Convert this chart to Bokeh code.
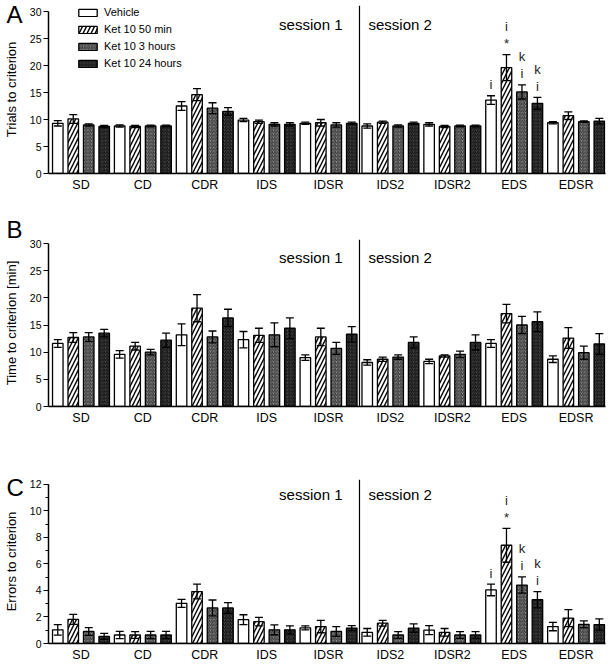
from bokeh.plotting import figure
from bokeh.models import (ColumnDataSource, Whisker, TeeHead, Span, Label, Legend, LegendItem,
                          FixedTicker, SingleIntervalTicker, Range1d, Title)
from bokeh.core.properties import value
from bokeh.layouts import column
from bokeh.embed import file_html
from bokeh.resources import INLINE

FONT = "Liberation Sans"

categories = ["SD", "CD", "CDR", "IDS", "IDSR", "IDS2", "IDSR2", "EDS", "EDSR"]
series_names = ["Vehicle", "Ket 10 50 min", "Ket 10 3 hours", "Ket 10 24 hours"]

# Panel A: trials to criterion (mean, SEM)
trials_veh = [9.3, 8.8, 12.5, 9.9, 9.3, 8.8, 9.1, 13.6, 9.4]
trials_veh_sem = [0.5, 0.2, 0.8, 0.3, 0.2, 0.4, 0.3, 0.8, 0.2]
trials_k50 = [10.1, 8.7, 14.6, 9.6, 9.4, 9.5, 8.7, 19.6, 10.7]
trials_k50_sem = [0.8, 0.2, 1.1, 0.3, 0.6, 0.2, 0.2, 2.4, 0.7]
trials_k3h = [9.0, 8.8, 12.1, 9.1, 9.0, 8.8, 8.8, 15.1, 9.6]
trials_k3h_sem = [0.2, 0.15, 1.0, 0.3, 0.4, 0.2, 0.15, 1.3, 0.15]
trials_k24 = [8.7, 8.8, 11.5, 9.1, 9.3, 9.3, 8.8, 13.0, 9.7]
trials_k24_sem = [0.2, 0.15, 0.7, 0.3, 0.2, 0.2, 0.15, 1.1, 0.5]

# Panel B: time to criterion [min]
time_veh = [11.6, 9.6, 13.2, 12.3, 9.0, 8.1, 8.3, 11.6, 8.7]
time_veh_sem = [0.7, 0.7, 2.0, 1.5, 0.5, 0.5, 0.4, 0.7, 0.6]
time_k50 = [12.7, 11.1, 18.1, 13.1, 12.8, 8.7, 9.3, 17.1, 12.6]
time_k50_sem = [0.9, 0.7, 2.5, 1.3, 1.6, 0.4, 0.2, 1.7, 1.9]
time_k3h = [12.8, 10.0, 12.8, 13.2, 10.7, 9.1, 9.6, 15.0, 9.9]
time_k3h_sem = [0.8, 0.5, 1.1, 2.2, 1.1, 0.4, 0.6, 1.6, 1.2]
time_k24 = [13.5, 12.2, 16.3, 14.4, 13.3, 11.8, 11.8, 15.6, 11.5]
time_k24_sem = [0.7, 1.3, 1.6, 1.9, 1.4, 1.0, 1.4, 1.8, 1.9]

# Panel C: errors to criterion
errors_veh = [1.03, 0.64, 3.03, 1.8, 1.18, 0.84, 1.01, 4.04, 1.28]
errors_veh_sem = [0.4, 0.27, 0.3, 0.37, 0.15, 0.29, 0.34, 0.44, 0.32]
errors_k50 = [1.82, 0.64, 3.92, 1.65, 1.28, 1.53, 0.84, 7.41, 1.92]
errors_k50_sem = [0.37, 0.26, 0.56, 0.32, 0.47, 0.22, 0.29, 1.28, 0.64]
errors_k3h = [0.91, 0.64, 2.68, 1.03, 0.91, 0.64, 0.64, 4.41, 1.45]
errors_k3h_sem = [0.29, 0.27, 0.6, 0.37, 0.37, 0.25, 0.25, 0.61, 0.25]
errors_k24 = [0.54, 0.64, 2.68, 1.03, 1.16, 1.16, 0.64, 3.3, 1.43]
errors_k24_sem = [0.22, 0.27, 0.4, 0.3, 0.19, 0.32, 0.25, 0.62, 0.42]

# significance marks (bottom to top) above EDS bars, per series
sig_category = "EDS"
sig_marks = [["i"], ["*", "i"], ["i", "k"], ["i", "k"]]

session_labels = ["session 1", "session 2"]
session_split = 5  # number of categories in session 1

styles = [
    dict(fill_color="white", hatch_pattern=None),
    dict(fill_color="white", hatch_pattern="/", hatch_color="black", hatch_scale=8, hatch_weight=1.4),
    dict(fill_color="#8e8e8e", hatch_pattern="/", hatch_color="#303030", hatch_scale=3.5, hatch_weight=1.0),
    dict(fill_color="#4c4c4c", hatch_pattern="/", hatch_color="#0c0c0c", hatch_scale=3.5, hatch_weight=1.0),
]

NS = len(series_names)
NC = len(categories)


def make_panel(letter, ylabel, means, sems, tick_top, tick_px, tick_int, minor, height, btop, bbot,
               title_standoff, with_sig=False, with_legend=False):
    frame_h = height - btop - bbot
    y_end = tick_top * frame_h / float(tick_px)
    p = figure(width=608, height=height, x_range=Range1d(-0.1, NC * NS - 0.1),
               y_range=Range1d(0, y_end), output_backend="svg", toolbar_location=None,
               min_border_left=42, min_border_right=3, min_border_top=btop, min_border_bottom=bbot)
    p.outline_line_color = None
    p.grid.visible = False
    p.background_fill_color = None
    p.border_fill_color = None

    renderers = []
    for s in range(NS):
        xs = [g * NS + s + 0.5 for g in range(NC)]
        lo = [m - e for m, e in zip(means[s], sems[s])]
        hi = [m + e for m, e in zip(means[s], sems[s])]
        src = ColumnDataSource(dict(x=xs, top=means[s], lo=lo, hi=hi))
        st = styles[s]
        kw = dict(fill_color=st["fill_color"])
        if st["hatch_pattern"]:
            kw.update(hatch_pattern=st["hatch_pattern"], hatch_color=st["hatch_color"],
                      hatch_scale=st["hatch_scale"], hatch_weight=st["hatch_weight"])
        r = p.vbar(x="x", top="top", width=0.68, source=src, line_color="black", line_width=1.3, **kw)
        renderers.append(r)
        w = Whisker(base="x", upper="hi", lower="lo", source=src, line_color="black", line_width=1.3,
                    upper_head=TeeHead(size=8, line_width=1.3, line_color="black"),
                    lower_head=TeeHead(size=8, line_width=1.3, line_color="black"),
                    level="annotation")
        p.add_layout(w)

    if with_sig:
        g = categories.index(sig_category)
        tx, ty, toff, tt = [], [], [], []
        for s in range(NS):
            for j, m in enumerate(sig_marks[s]):
                tx.append(g * NS + s + 0.5)
                ty.append(means[s][g] + sems[s][g])
                toff.append(-(11 + 17 * j))
                tt.append(m)
        p.text(x=tx, y=ty, text=tt, y_offset=toff, text_align="center", text_baseline="middle",
               text_font=value(FONT), text_font_size="13px", text_color="#222222")

    split = session_split * NS
    p.add_layout(Span(location=split, dimension="height", line_color="black", line_width=1.2))
    p.add_layout(Label(x=split, x_offset=-17, y=149, y_units="screen", text=session_labels[0],
                       text_align="right", text_baseline="alphabetic", text_font=FONT,
                       text_font_size="15px", text_color="black"))
    p.add_layout(Label(x=split, x_offset=9, y=149, y_units="screen", text=session_labels[1],
                       text_align="left", text_baseline="alphabetic", text_font=FONT,
                       text_font_size="15px", text_color="black"))

    # panel letter: a title pulled down beside the y axis
    p.add_layout(Title(text=letter, align="left", vertical_align="bottom", offset=-42,
                       standoff=title_standoff, text_font=FONT, text_font_size="24px",
                       text_font_style="normal", text_color="black"), "above")

    # x axis
    xa = p.xaxis[0]
    xa.ticker = FixedTicker(ticks=[g * NS + NS / 2 for g in range(NC)])
    xa.major_label_overrides = {g * NS + NS / 2: c for g, c in enumerate(categories)}
    xa.major_tick_out = 0
    xa.major_tick_in = 0
    xa.minor_tick_out = 0
    xa.minor_tick_in = 0
    xa.major_label_standoff = 4
    xa.major_label_text_font = FONT
    xa.major_label_text_font_size = "12.5px"
    xa.major_label_text_color = "black"
    xa.axis_line_width = 1.5
    xa.axis_line_color = "black"

    ya = p.yaxis[0]
    ya.ticker = SingleIntervalTicker(interval=tick_int, num_minor_ticks=(2 if minor else 0))
    ya.bounds = (0, tick_top)
    ya.major_tick_out = 5
    ya.major_tick_in = 0
    ya.minor_tick_out = 3 if minor else 0
    ya.minor_tick_in = 0
    ya.major_tick_line_width = 1.2
    ya.minor_tick_line_width = 1.2
    ya.axis_line_width = 1.5
    ya.major_label_standoff = 2
    ya.major_label_text_font = FONT
    ya.major_label_text_font_size = "10.5px"
    ya.major_label_text_color = "black"
    ya.axis_label = ylabel
    ya.axis_label_text_font = FONT
    ya.axis_label_text_font_size = "13px"
    ya.axis_label_text_font_style = "normal"
    ya.axis_label_text_color = "black"
    ya.axis_label_standoff = 8

    if with_legend:
        items = [LegendItem(label=n, renderers=[r]) for n, r in zip(series_names, renderers)]
        leg = Legend(items=items, location=(28, frame_h - 64), padding=0, margin=0, spacing=5,
                     glyph_width=23, glyph_height=9, label_height=9, label_standoff=5,
                     label_text_font=FONT, label_text_font_size="11px", label_text_color="black",
                     border_line_color=None, background_fill_alpha=0)
        p.add_layout(leg, "center")
    return p


pA = make_panel("A", "Trials to criterion",
                [trials_veh, trials_k50, trials_k3h, trials_k24],
                [trials_veh_sem, trials_k50_sem, trials_k3h_sem, trials_k24_sem],
                30, 162, 5, False, 200, 5, 27, -44, with_sig=True, with_legend=True)
pB = make_panel("B", "Time to criterion [min]",
                [time_veh, time_k50, time_k3h, time_k24],
                [time_veh_sem, time_k50_sem, time_k3h_sem, time_k24_sem],
                30, 163, 5, False, 230, 39, 24, -6)
pC = make_panel("C", "Errors to criterion",
                [errors_veh, errors_k50, errors_k3h, errors_k24],
                [errors_veh_sem, errors_k50_sem, errors_k3h_sem, errors_k24_sem],
                12, 162, 2, True, 234, 49, 18, -42, with_sig=True)

layout = column(pA, pB, pC, spacing=0)
open("out.html", "w").write(file_html(layout, INLINE))
